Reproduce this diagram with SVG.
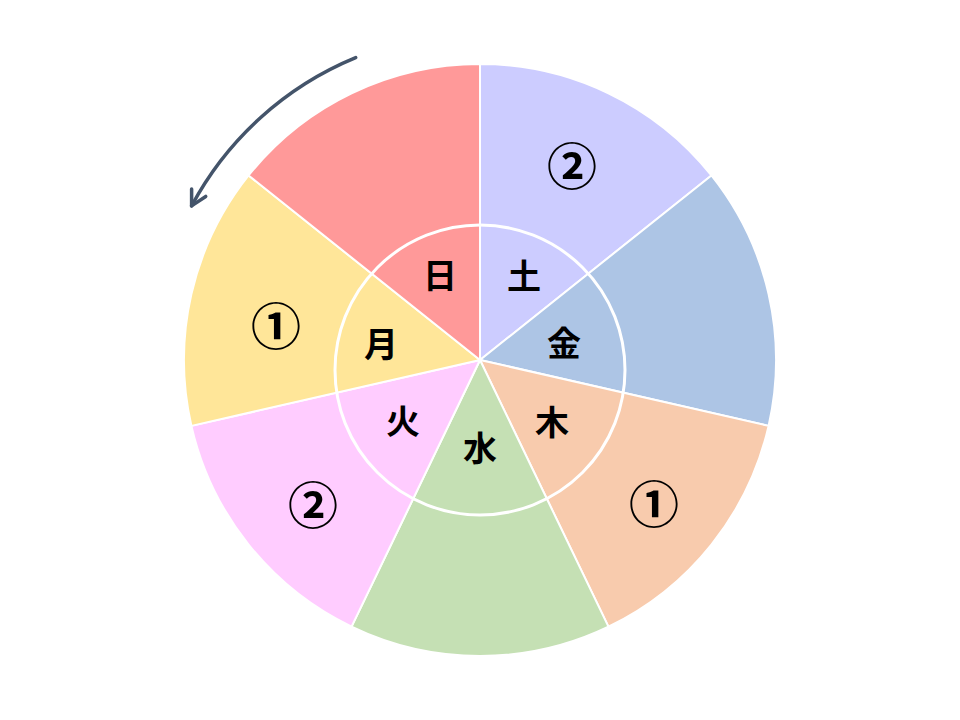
<svg xmlns="http://www.w3.org/2000/svg" width="960" height="720" viewBox="0 0 960 720">
<style>
.sec{stroke:#FFFFFF;stroke-width:2;stroke-linejoin:round}
.kanji{font-family:"Noto Sans CJK JP","Noto Sans CJK SC",sans-serif;font-weight:bold;font-size:34px;fill:#000000;text-anchor:middle;dominant-baseline:central}
.num{font-family:"Noto Sans CJK JP","Noto Sans CJK SC",sans-serif;font-weight:bold;font-size:50px;fill:#000000;text-anchor:middle;dominant-baseline:central}
.arrow{fill:none;stroke:#44546A;stroke-width:3.5;stroke-linecap:round}
</style>
<defs>
<marker id="head" markerUnits="userSpaceOnUse" orient="auto" markerWidth="24" markerHeight="24" refX="0" refY="0" viewBox="-20 -12 24 24" overflow="visible">
<path d="M -15 -8 L 0 0 L -15 8" fill="none" stroke="#44546A" stroke-width="3.5" stroke-linecap="round" stroke-linejoin="round"/>
</marker>
</defs>
<rect width="960" height="720" fill="#FFFFFF"/>
<g id="sector-do">
<path class="sec" fill="#CCCCFF" d="M480 360 L480 64 A296 296 0 0 1 711.42 175.45 Z"/>
</g>
<g id="sector-kin">
<path class="sec" fill="#ADC5E5" d="M480 360 L711.42 175.45 A296 296 0 0 1 768.58 425.87 Z"/>
</g>
<g id="sector-moku">
<path class="sec" fill="#F8CBAD" d="M480 360 L768.58 425.87 A296 296 0 0 1 608.43 626.69 Z"/>
</g>
<g id="sector-sui">
<path class="sec" fill="#C5E0B4" d="M480 360 L608.43 626.69 A296 296 0 0 1 351.57 626.69 Z"/>
</g>
<g id="sector-ka">
<path class="sec" fill="#FFCCFF" d="M480 360 L351.57 626.69 A296 296 0 0 1 191.42 425.87 Z"/>
</g>
<g id="sector-getsu">
<path class="sec" fill="#FFE699" d="M480 360 L191.42 425.87 A296 296 0 0 1 248.58 175.45 Z"/>
</g>
<g id="sector-nichi">
<path class="sec" fill="#FF9999" d="M480 360 L248.58 175.45 A296 296 0 0 1 480 64 Z"/>
</g>
<g id="inner-ring">
<circle cx="480" cy="370" r="145" fill="none" stroke="#FFFFFF" stroke-width="3"/>
</g>
<g id="labels-inner">
<text class="kanji" x="440" y="273">日</text>
<text class="kanji" x="524" y="274">土</text>
<text class="kanji" x="564" y="341">金</text>
<text class="kanji" x="552" y="420">木</text>
<text class="kanji" x="480" y="446">水</text>
<text class="kanji" x="403" y="419">火</text>
<text class="kanji" x="381" y="342">月</text>
</g>
<g id="labels-outer">
<text class="num" x="572" y="163">②</text>
<text class="num" x="276" y="323">①</text>
<text class="num" x="313" y="502">②</text>
<text class="num" x="654" y="501">①</text>
</g>
<g id="connectors">
<path class="arrow" d="M355.7 57.6 A327 327 0 0 0 191.6 205.9" marker-end="url(#head)"/>
</g>
</svg>
